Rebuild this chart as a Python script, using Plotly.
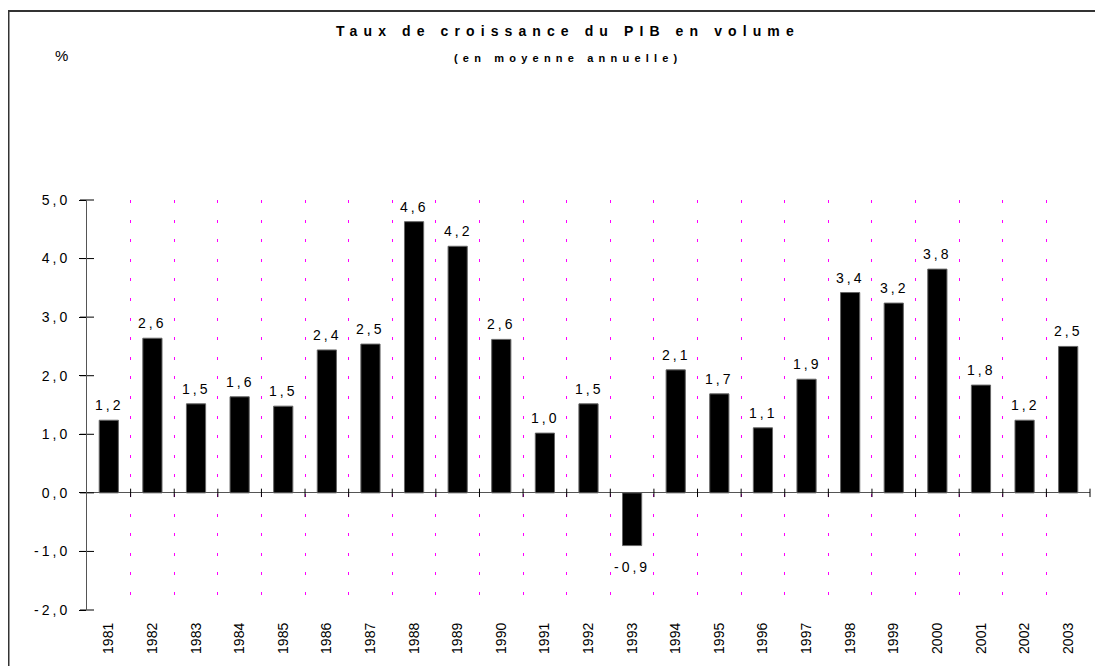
import numpy as np
import plotly.graph_objects as go

# ---- data ----
years = [str(y) for y in range(1981, 2004)]
growth = [1.24, 2.64, 1.52, 1.64, 1.48, 2.44, 2.54, 4.63, 4.21, 2.62, 1.02, 1.52,
          -0.90, 2.10, 1.69, 1.11, 1.94, 3.42, 3.24, 3.82, 1.84, 1.24, 2.50]
y_ticks = [-2, -1, 0, 1, 2, 3, 4, 5]
title_text = "Taux de croissance du PIB en volume"
subtitle_text = "(en moyenne annuelle)"
unit_text = "%"

FONT = "Liberation Sans, Arial, sans-serif"


def fr(v, d=1):
    return f"{v:.{d}f}".replace(".", ",")


def sp(s, ls):
    return f'<span style="letter-spacing:{ls}px">{s}</span>'


x_idx = np.arange(len(years))
bounds = x_idx + 0.5

fig = go.Figure()

fig.add_trace(go.Bar(
    x=x_idx, y=growth, width=0.44,
    marker=dict(color="black", line=dict(color="#666666", width=1)),
    hoverinfo="skip", showlegend=False,
))

# crossing ticks on the zero line (category boundaries)
fig.add_trace(go.Scatter(
    x=bounds, y=[0] * len(bounds), xaxis="x2", yaxis="y",
    mode="markers", cliponaxis=False,
    marker=dict(symbol="line-ns", size=6, line=dict(color="black", width=1)),
    hoverinfo="skip", showlegend=False,
))

# crossing ticks on the y axis
fig.add_trace(go.Scatter(
    x=[-0.5] * len(y_ticks), y=y_ticks,
    mode="markers", cliponaxis=False,
    marker=dict(symbol="line-ew", size=10, line=dict(color="black", width=1)),
    hoverinfo="skip", showlegend=False,
))

# value labels
annotations = []
for xi, v in zip(x_idx, growth):
    pos = v >= 0
    annotations.append(dict(
        x=xi, y=v, xref="x", yref="y", text=sp(fr(v), 3), showarrow=False,
        xanchor="center", yanchor="bottom" if pos else "top",
        yshift=5 if pos else -11,
        font=dict(family=FONT, size=14, color="black"),
    ))

annotations += [
    dict(text="<b>" + sp(title_text, 6.1) + "</b>", xref="paper", yref="paper",
         x=0.48, y=1 + 170 / 412, xanchor="center", yanchor="middle",
         showarrow=False, font=dict(family=FONT, size=14, color="black")),
    dict(text="<b>" + sp(subtitle_text, 5.2) + "</b>", xref="paper", yref="paper",
         x=0.48, y=1 + 143 / 412, xanchor="center", yanchor="middle",
         showarrow=False, font=dict(family=FONT, size=11, color="black")),
    dict(text=unit_text, xref="paper", yref="paper",
         x=(61 - 87) / 1003, y=1 + 145 / 412, xanchor="center", yanchor="middle",
         showarrow=False, font=dict(family=FONT, size=15, color="black")),
]

fig.update_layout(
    width=1095, height=658,
    margin=dict(l=79, r=13, t=192, b=54),
    paper_bgcolor="white", plot_bgcolor="white",
    font=dict(family=FONT, color="black"),
    xaxis=dict(
        range=[-0.5, len(years) - 0.5],
        tickvals=x_idx, ticktext=years, tickangle=-90,
        tickfont=dict(size=14, color="black"),
        showgrid=False, zeroline=False, showline=False, ticks="",
        ticklabelstandoff=9,
    ),
    xaxis2=dict(
        range=[-0.5, len(years) - 0.5], overlaying="x", anchor="y",
        tickvals=bounds, showticklabels=False, ticks="",
        showgrid=True, gridcolor="#FF00FF", gridwidth=1.3, griddash="3px,16.6px",
        zeroline=False, showline=False,
    ),
    yaxis=dict(
        range=[-2, 5], tickvals=y_ticks,
        ticktext=[sp(fr(v), 3) for v in y_ticks],
        tickfont=dict(size=14, color="black"),
        ticks="outside", ticklen=7, tickcolor="black",
        showline=True, linecolor="#555555", linewidth=1,
        zeroline=True, zerolinecolor="#555555", zerolinewidth=1,
        showgrid=False, ticklabelstandoff=6,
    ),
    annotations=annotations,
    shapes=[
        dict(type="rect", xref="paper", yref="paper",
             x0=(8.5 - 87) / 1003, x1=1.2, y0=-0.5, y1=1 + 190 / 412,
             line=dict(color="#333333", width=2), fillcolor="rgba(0,0,0,0)",
             layer="below"),
    ],
)

fig.write_html("out.html")
